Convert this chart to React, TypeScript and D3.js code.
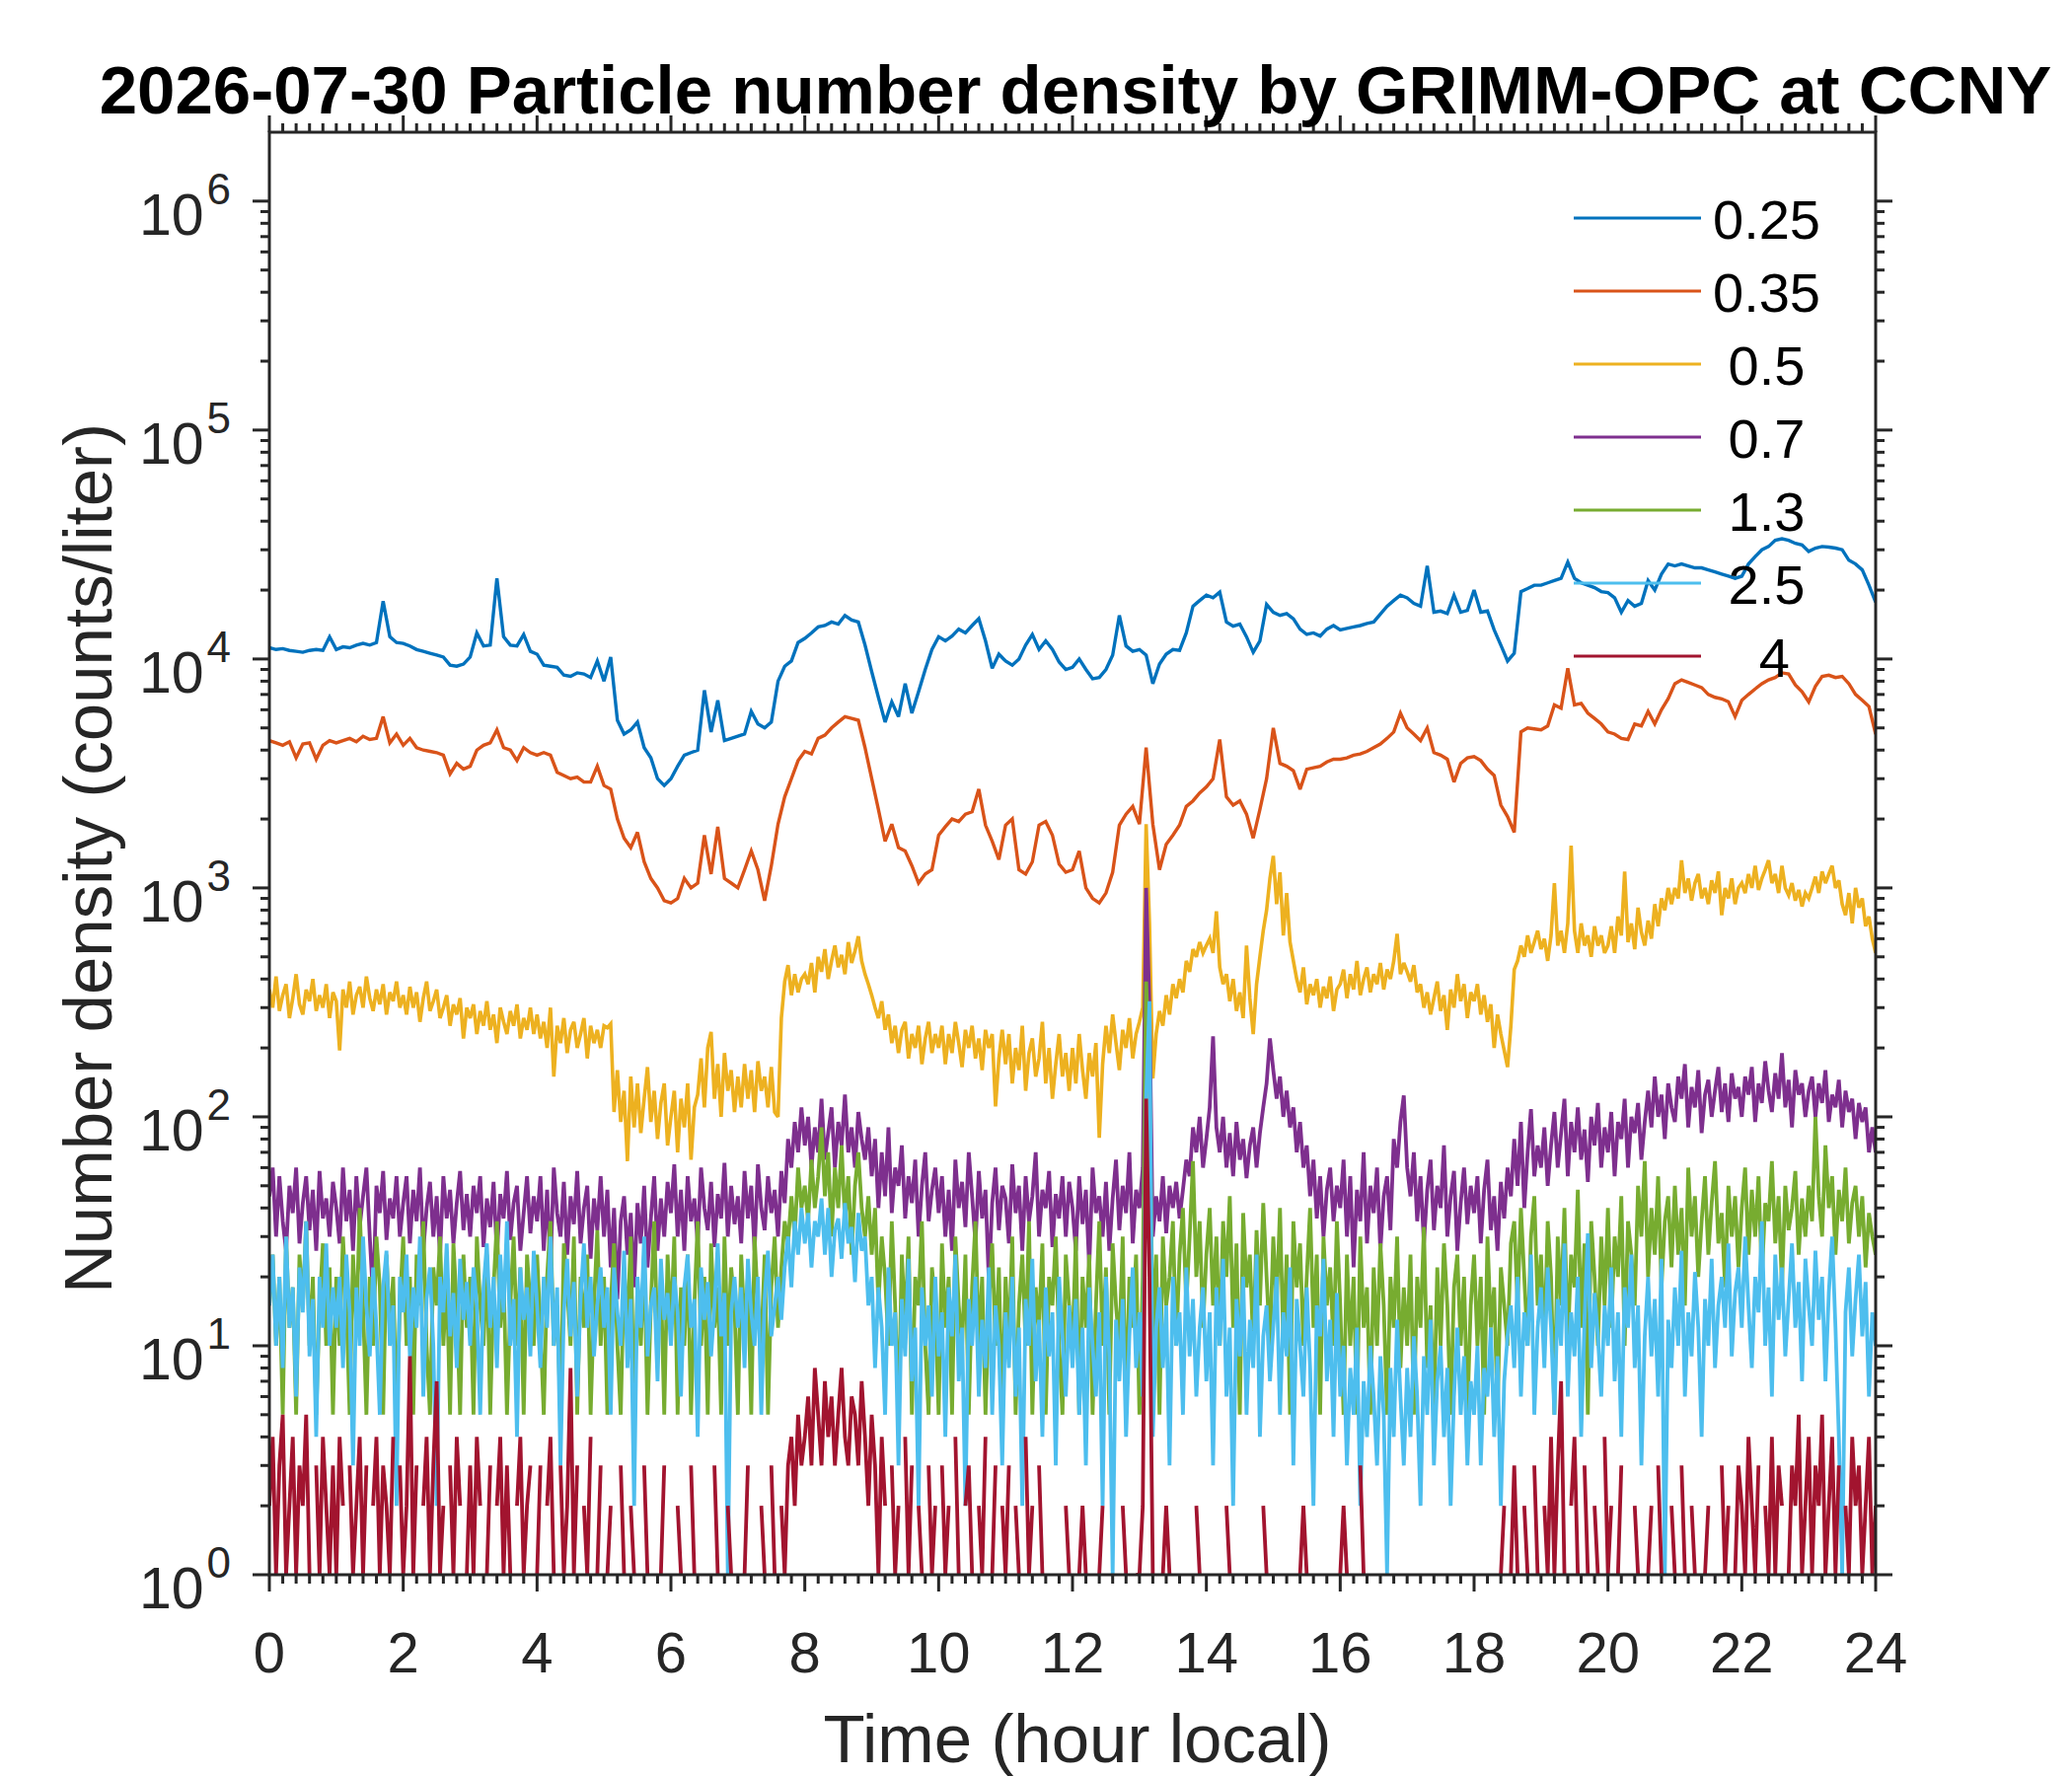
import React from 'react';
import * as d3 from 'd3';

const W = 2100;
const H = 1800;
const PLOT = { left: 273, right: 1901, top: 134, bottom: 1596 };

const COARSE_STEP = 0.1; // hours between samples for the two smallest bins
const FINE_STEP = 0.05; // hours between samples for the other bins

const sizeLabels = ['0.25', '0.35', ' 0.5', ' 0.7', ' 1.3', ' 2.5', '   4'];
const colors = ['#0072BD', '#D95319', '#EDB120', '#7E2F8E', '#77AC30', '#4DBEEE', '#A2142F'];
const xTickValues = [0, 2, 4, 6, 8, 10, 12, 14, 16, 18, 20, 22, 24];
const yDecades = [0, 1, 2, 3, 4, 5, 6];

const n025 = [
  11200, 11000, 11100, 10900, 10800, 10700, 10900, 11000, 10900, 12500,
  11000, 11300, 11200, 11500, 11700, 11500, 11800, 17900, 12500, 11800,
  11700, 11400, 11000, 10800, 10600, 10400, 10200, 9400, 9300, 9500,
  10200, 13000, 11400, 11500, 22500, 12500, 11500, 11400, 12800, 10800,
  10500, 9400, 9300, 9200, 8500, 8400, 8700, 8600, 8300, 9800,
  8000, 10200, 5400, 4700, 4900, 5300, 4100, 3700, 3000, 2800,
  3000, 3400, 3800, 3900, 4000, 7300, 4800, 6600, 4400, 4500,
  4600, 4700, 5900, 5200, 5000, 5300, 8000, 9300, 9800, 11800,
  12300, 13000, 13800, 14000, 14500, 14200, 15500, 14800, 14500, 11500,
  8800, 6800, 5300, 6500, 5600, 7800, 5800, 7200, 9000, 11000,
  12500, 12000, 12600, 13500, 13000, 14000, 15000, 12000, 9100, 10500,
  9800, 9400, 10000, 11500, 12800, 11000, 12000, 11000, 9700, 9000,
  9200, 10000, 9000, 8200, 8300, 9000, 10400, 15500, 11400, 10800,
  11000, 10400, 7800, 9500, 10500, 11000, 10900, 13000, 17000, 18000,
  19000, 18500, 19600, 14500, 13900, 14200, 12500, 10700, 12000, 17300,
  16000, 15500, 15800, 15000, 13500, 12800, 13000, 12600, 13500, 14000,
  13400, 13600, 13800, 14000, 14300, 14500, 15700, 17000, 18000, 19000,
  18500, 17500, 17000, 25500, 16000, 16200, 15800, 19000, 16000, 16300,
  20000, 16000, 16200, 13400, 11500, 9800, 10600, 19700, 20300, 21000,
  21000, 21500, 22000, 22500, 26500, 22500, 21500, 21000, 20500, 19700,
  19500, 18500, 16000, 18000, 17000, 17500, 22000, 20000, 23500, 26000,
  25500, 26000, 25500, 25000, 25000, 24500, 24000, 23500, 23000, 22500,
  23000, 26000, 28000, 30000, 31000, 33000, 33500, 33000, 32000, 31500,
  29500, 30500, 31000, 30800, 30500, 30000, 27000, 26000, 24500, 21000,
  17700,
];

const n035 = [
  4400, 4300, 4200, 4350, 3700, 4250, 4300, 3650, 4200, 4400,
  4300, 4400, 4500, 4350, 4600, 4450, 4500, 5600, 4300, 4700,
  4200, 4500, 4100, 4000, 3950, 3900, 3800, 3150, 3500, 3300,
  3400, 4000, 4200, 4300, 4900, 4100, 4000, 3600, 4100, 3900,
  3800, 3900, 3800, 3200, 3100, 3000, 3050, 2900, 2900, 3400,
  2800, 2700, 2000, 1650, 1500, 1750, 1300, 1100, 1000, 880,
  860, 900, 1100, 1000, 1050, 1700, 1150, 1850, 1100, 1050,
  1000, 1200, 1450, 1200, 880, 1250, 1900, 2500, 3000, 3600,
  3950, 3850, 4500, 4650, 5000, 5300, 5600, 5500, 5400, 4100,
  3000, 2200, 1600, 1900, 1500, 1450, 1250, 1050, 1150, 1200,
  1700, 1850, 2000, 1950, 2100, 2150, 2700, 1880, 1600, 1330,
  1880, 2000, 1200, 1150, 1300, 1880, 1950, 1700, 1270, 1170,
  1200, 1450, 1000, 900, 860, 950, 1170, 1880, 2100, 2270,
  1900, 4100, 1900, 1200, 1550, 1700, 1880, 2270, 2400, 2600,
  2760, 3000, 4450, 2500, 2300, 2400, 2100, 1650, 2200, 3000,
  5000, 3500, 3400, 3250, 2700, 3300, 3350, 3400, 3550, 3650,
  3650, 3700, 3800, 3850, 3950, 4100, 4250, 4500, 4800, 5800,
  5000, 4700, 4400, 5000, 3900, 3800, 3650, 2900, 3500, 3700,
  3750, 3600, 3300, 3100, 2300, 2050, 1750, 4800, 5000, 4950,
  4900, 5100, 6300, 6100, 9100, 6300, 6400, 5800, 5500, 5200,
  4800, 4700, 4500, 4450, 5200, 5100, 5900, 5200, 6000, 6700,
  7800, 8100, 7900, 7700, 7500, 7000, 6800, 6700, 6500, 5600,
  6600, 7000, 7400, 7800, 8100, 8300, 8700, 8600, 7700, 7200,
  6500, 7600, 8400, 8500, 8300, 8400, 7800, 7000, 6600, 6200,
  4700,
];

const n05 = [
  360, 300, 410, 290, 340, 380, 270, 330, 420, 310, 280, 360, 320, 400, 290, 340, 300, 380, 270, 350,
  320, 195, 360, 300, 390, 280, 340, 370, 300, 410, 330, 290, 360, 310, 380, 280, 350, 320, 390, 300,
  340, 280, 370, 300, 350, 260, 330, 390, 290, 320, 360, 270, 300, 340, 250, 310, 280, 330, 220, 300,
  270, 310, 230, 290, 250, 320, 240, 280, 210, 300, 260, 230, 290, 250, 310, 220, 270, 240, 300, 230,
  280, 220, 260, 200, 300, 150, 250, 210, 270, 190, 240, 260, 200, 230, 270, 180, 250, 210, 240, 200,
  250, 245, 255, 105, 160, 95, 130, 64, 150, 90, 140, 85, 120, 165, 95, 130, 80, 115, 140, 75,
  100, 130, 70, 120, 90, 140, 65, 110, 125, 180, 110, 200, 235, 120, 170, 100, 190, 130, 160, 105,
  150, 110, 170, 120, 160, 105, 175, 130, 150, 110, 165, 105, 100, 270, 390, 460, 340, 420, 350, 400,
  420, 380, 470, 350, 500, 430, 540, 400, 480, 560, 450, 510, 420, 580, 470, 530, 615, 480, 420, 380,
  340, 300, 270, 320, 240, 280, 210, 250, 190, 240, 260, 180, 230, 200, 250, 170, 220, 260, 190, 230,
  200, 250, 170, 230, 190, 260, 210, 165, 240, 200, 250, 180, 220, 160, 240, 200, 230, 111, 180, 240,
  170, 230, 140, 200, 160, 250, 130, 190, 220, 150, 180, 260, 140, 200, 120, 170, 230, 150, 190, 130,
  200, 140, 230, 160, 120, 190, 150, 210, 81, 170, 250, 190, 280, 210, 160, 240, 200, 270, 180, 230,
  260, 300, 1900, 700, 147, 230, 290, 250, 340, 280, 380, 330, 400, 350, 480, 430, 540, 500, 580, 520,
  560, 600, 520, 790, 450, 380, 420, 320, 400, 290, 350, 270, 560, 330, 230, 380, 500, 650, 800, 1100,
  1380, 850, 1170, 620, 950, 580, 480, 400, 350, 450, 310, 380, 340, 400, 300, 370, 330, 410, 290, 360,
  380, 440, 330, 420, 360, 480, 340, 400, 450, 350, 420, 380, 470, 360, 440, 400, 480, 630, 420, 470,
  430, 390, 460, 350, 380, 300, 350, 280, 330, 390, 290, 340, 240, 360, 300, 420, 320, 380, 270, 350,
  320, 380, 280, 340, 260, 310, 200, 280, 230, 195, 165, 250, 440, 480, 560, 500, 620, 520, 580, 650,
  540, 600, 480, 620, 1050, 560, 650, 520, 700, 1530, 650, 520, 700, 560, 620, 500, 680, 560, 620, 520,
  560, 680, 520, 750, 620, 1180, 580, 700, 540, 820, 640, 560, 720, 600, 850, 680, 900, 800, 1000, 850,
  1000, 900, 1320, 950, 1100, 880, 1050, 1150, 900, 1000, 850, 1080, 950, 1180, 760, 1000, 900, 1100, 850, 1000,
  1050, 950, 1150, 1000, 1250, 980, 1100, 1200, 1320, 1050, 1150, 950, 1250, 1000, 930, 1050, 880, 980, 830, 950,
  900, 1000, 1120, 950, 1180, 1050, 1150, 1250, 1000, 1080, 850, 760, 950, 700, 1000, 820, 900, 680, 750, 600,
  520,
];

const n07 = [
  45, 60, 30, 55, 35, 26, 50, 38, 60, 28, 42, 55, 32, 48, 26, 58, 36, 44, 30, 52,
  40, 28, 60, 35, 48, 26, 55, 33, 45, 60, 30, 16, 50, 38, 58, 29, 44, 36, 55, 30,
  42, 55, 28, 48, 35, 60, 26, 40, 52, 30, 45, 25, 55, 36, 48, 28, 42, 58, 32, 46,
  30, 50, 38, 55, 27, 44, 33, 52, 25, 46, 36, 58, 29, 42, 50, 26, 38, 55, 31, 45,
  35, 55, 26, 48, 22, 60, 38, 30, 52, 25, 45, 34, 58, 28, 40, 50, 24, 44, 32, 55,
  30, 48, 22, 40, 16, 35, 45, 25, 38, 18, 42, 28, 50, 22, 36, 55, 26, 44, 30, 52,
  38, 62, 30, 48, 26, 55, 35, 44, 28, 60, 40, 32, 52, 27, 46, 36, 63, 30, 50, 34,
  45, 28, 58, 36, 50, 26, 62, 40, 32, 55, 38, 48, 30, 58, 42, 80, 60, 95, 70, 110,
  75, 100, 60, 90, 70, 120, 65, 85, 110, 60, 95, 75, 125, 70, 90, 60, 105, 80, 65, 90,
  55, 80, 40, 70, 45, 90, 38, 60, 50, 75, 36, 55, 42, 65, 30, 50, 70, 35, 48, 60,
  38, 55, 30, 48, 26, 65, 40, 52, 33, 70, 45, 28, 58, 36, 48, 19, 42, 60, 32, 50,
  44, 28, 62, 38, 50, 26, 55, 35, 45, 70, 30, 48, 40, 58, 27, 46, 36, 55, 30, 52,
  40, 26, 55, 34, 48, 22, 60, 38, 45, 30, 52, 26, 44, 65, 32, 50, 38, 70, 28, 48,
  40, 60, 1000, 300, 30, 45, 35, 55, 31, 50, 40, 52, 36, 48, 65, 55, 90, 70, 100, 60,
  80, 110, 225, 90, 70, 100, 60, 85, 55, 95, 65, 80, 54, 75, 90, 60, 85, 110, 140, 220,
  160, 120, 150, 100, 130, 90, 110, 70, 95, 60, 75, 45, 65, 36, 55, 30, 48, 60, 35, 50,
  40, 65, 30, 55, 22, 48, 35, 70, 28, 50, 38, 60, 26, 45, 55, 32, 80, 60, 95, 124,
  60, 45, 70, 35, 55, 28, 48, 65, 32, 50, 40, 75, 30, 45, 58, 26, 42, 60, 34, 50,
  38, 55, 28, 48, 65, 32, 45, 26, 52, 36, 60, 45, 80, 50, 95, 40, 70, 108, 55, 75,
  60, 90, 50, 75, 105, 60, 85, 120, 55, 95, 70, 110, 65, 88, 52, 100, 75, 115, 60, 90,
  70, 105, 55, 95, 80, 120, 60, 100, 85, 115, 65, 95, 130, 90, 150, 100, 125, 80, 140, 110,
  95, 150, 120, 170, 90, 135, 110, 160, 85, 125, 145, 100, 130, 165, 105, 140, 95, 155, 120, 135,
  100, 150, 125, 165, 95, 140, 115, 175, 130, 105, 155, 120, 190, 110, 145, 90, 160, 125, 140, 100,
  130, 150, 100, 140, 115, 160, 95, 125, 110, 145, 90, 130, 105, 120, 80, 115, 95, 110, 70, 90,
  70,
];

const n13 = [
  15, 25, 10, 20, 5, 30, 12, 18, 5, 25, 15, 35, 10, 20, 5, 15, 28, 10, 22, 5,
  20, 10, 30, 15, 5, 25, 12, 40, 15, 5, 20, 10, 30, 18, 5, 25, 12, 20, 5, 15,
  30, 10, 20, 5, 25, 15, 35, 10, 5, 22, 15, 30, 10, 20, 5, 28, 15, 5, 25, 12,
  20, 5, 30, 15, 10, 25, 5, 18, 35, 12, 20, 5, 15, 30, 10, 22, 5, 25, 15, 10,
  25, 12, 5, 20, 35, 10, 15, 5, 28, 18, 10, 30, 5, 20, 12, 25, 5, 15, 32, 10,
  20, 5, 15, 28, 10, 5, 22, 12, 30, 5, 18, 10, 25, 5, 15, 35, 10, 20, 5, 25,
  12, 30, 5, 18, 10, 25, 5, 15, 35, 10, 20, 5, 28, 12, 18, 5, 30, 10, 22, 15,
  5, 25, 12, 20, 5, 30, 15, 10, 25, 5, 18, 30, 12, 22, 35, 28, 45, 30, 60, 40,
  50, 35, 65, 40, 55, 90, 45, 70, 30, 60, 40, 75, 35, 55, 25, 50, 70, 40, 30, 45,
  25, 40, 15, 30, 20, 10, 35, 15, 5, 25, 12, 30, 5, 20, 15, 35, 10, 5, 22, 15,
  5, 28, 12, 20, 5, 30, 15, 10, 25, 5, 18, 35, 10, 20, 5, 15, 28, 10, 22, 5,
  20, 10, 30, 5, 15, 25, 10, 35, 5, 18, 12, 28, 5, 20, 15, 30, 10, 5, 25, 15,
  10, 30, 5, 20, 12, 25, 5, 15, 35, 10, 22, 5, 28, 15, 10, 30, 5, 20, 12, 25,
  5, 20, 390, 150, 10, 25, 5, 30, 15, 20, 35, 10, 25, 40, 15, 30, 64, 20, 35, 12,
  25, 40, 15, 30, 10, 35, 20, 45, 12, 28, 5, 38, 18, 25, 10, 32, 15, 42, 20, 10,
  30, 15, 40, 10, 25, 5, 35, 18, 28, 10, 20, 40, 12, 25, 5, 30, 15, 22, 10, 35,
  15, 5, 25, 10, 20, 5, 30, 12, 18, 5, 22, 10, 28, 15, 5, 20, 12, 30, 8, 18,
  10, 25, 5, 20, 12, 33, 8, 15, 5, 22, 10, 28, 15, 5, 18, 25, 10, 20, 5, 15,
  25, 10, 20, 5, 30, 12, 18, 5, 22, 15, 10, 28, 35, 15, 40, 20, 10, 30, 45, 15,
  25, 10, 35, 20, 5, 30, 15, 40, 10, 25, 18, 48, 12, 28, 5, 35, 20, 10, 30, 15,
  40, 12, 30, 20, 45, 10, 35, 25, 15, 50, 30, 64, 20, 40, 25, 55, 18, 35, 45, 22,
  50, 25, 40, 15, 60, 30, 45, 20, 35, 55, 25, 42, 64, 28, 38, 18, 50, 30, 45, 22,
  40, 60, 25, 48, 30, 55, 20, 42, 35, 64, 28, 45, 18, 50, 32, 40, 58, 25, 44, 30,
  50, 35, 100, 45, 30, 75, 40, 55, 25, 48, 35, 60, 28, 42, 50, 30, 45, 22, 38, 30,
  25,
];

const n25 = [
  15, 25, 10, 20, 8, 30, 12, 18, 6, 22, 14, 35, 9, 16, 4, 20, 12, 28, 10, 18,
  12, 20, 8, 25, 14, 3, 18, 10, 30, 15, 9, 22, 12, 5, 18, 26, 10, 15, 2, 20,
  14, 25, 9, 18, 12, 30, 6, 16, 22, 10, 2, 20, 14, 28, 11, 17, 8, 24, 13, 19,
  10, 22, 15, 5, 18, 28, 12, 20, 8, 25, 14, 35, 10, 16, 4, 22, 13, 18, 9, 26,
  15, 8, 20, 12, 30, 10, 18, 3, 14, 24, 11, 19, 6, 16, 28, 12, 20, 9, 15, 22,
  12, 18, 5, 22, 14, 10, 26, 8, 16, 2, 20, 12, 30, 9, 15, 18, 7, 24, 13, 17,
  10, 20, 14, 6, 18, 25, 12, 16, 4, 22, 13, 19, 9, 15, 28, 11, 17, 1, 14, 20,
  12, 18, 8, 24, 14, 10, 20, 5, 16, 26, 11, 15, 20, 13, 22, 30, 18, 35, 25, 40,
  28, 38, 22, 35, 30, 44, 25, 40, 20, 32, 36, 24, 42, 28, 33, 19, 38, 26, 30, 15,
  20, 8, 18, 12, 5, 22, 10, 14, 3, 16, 9, 24, 7, 12, 2, 18, 10, 15, 6, 20,
  9, 14, 4, 18, 11, 25, 7, 12, 2, 16, 10, 20, 6, 13, 8, 22, 5, 15, 10, 3,
  14, 8, 20, 6, 12, 2, 16, 10, 24, 7, 13, 4, 18, 9, 14, 3, 20, 11, 6, 15,
  8, 16, 5, 12, 3, 18, 10, 6, 14, 2, 20, 9, 1, 13, 7, 16, 4, 11, 22, 8,
  14, 6, 120, 320, 4, 12, 18, 8, 15, 3, 20, 10, 14, 5, 22, 9, 16, 6, 12, 18,
  7, 14, 3, 18, 10, 24, 6, 12, 2, 16, 9, 20, 5, 13, 8, 25, 4, 11, 15, 7,
  12, 20, 5, 14, 9, 22, 3, 16, 10, 6, 18, 8, 2, 15, 11, 24, 7, 13, 4, 17,
  6, 10, 3, 8, 5, 12, 2, 7, 4, 10, 6, 3, 9, 5, 1, 8, 4, 13, 6, 3,
  8, 4, 11, 6, 2, 9, 5, 13, 3, 7, 10, 4, 8, 2, 6, 12, 5, 9, 3, 7,
  5, 10, 3, 8, 6, 12, 4, 9, 2, 7, 11, 15, 8, 20, 6, 14, 10, 25, 5, 12,
  18, 8, 22, 12, 5, 16, 10, 28, 6, 14, 9, 20, 4, 13, 31, 8, 17, 11, 6, 15,
  10, 22, 7, 14, 4, 18, 12, 25, 8, 15, 3, 11, 20, 9, 16, 6, 24, 1, 13, 8,
  18, 10, 26, 6, 14, 9, 21, 12, 4, 16, 10, 24, 8, 15, 20, 12, 28, 9, 17, 22,
  12, 30, 15, 8, 20, 14, 35, 10, 18, 6, 25, 13, 22, 9, 16, 28, 12, 19, 7, 24,
  15, 10, 26, 13, 20, 7, 17, 30, 12, 4, 1, 14, 22, 9, 16, 25, 11, 19, 6, 14,
  10,
];

const n4 = [
  2, 4, 1, 3, 5, 1, 2, 4, 1, 3, 2, 5, 1, 0, 3, 1, 4, 2, 1, 3,
  1, 4, 2, 0, 3, 1, 2, 4, 1, 3, 0, 2, 4, 1, 3, 2, 1, 4, 0, 3,
  1, 2, 9, 1, 3, 0, 2, 4, 1, 3, 7, 1, 2, 0, 3, 1, 4, 2, 0, 1,
  3, 1, 4, 2, 0, 1, 3, 0, 2, 4, 1, 3, 1, 0, 2, 4, 1, 2, 3, 0,
  1, 3, 0, 2, 4, 1, 0, 3, 1, 2, 8, 1, 3, 0, 2, 1, 4, 0, 1, 3,
  0, 1, 2, 0, 0, 3, 1, 0, 2, 1, 0, 0, 3, 1, 0, 2, 0, 1, 3, 0,
  1, 0, 2, 1, 0, 0, 3, 1, 0, 2, 0, 1, 0, 3, 1, 0, 0, 2, 1, 0,
  2, 0, 1, 3, 0, 1, 0, 2, 1, 0, 3, 1, 0, 2, 1, 3, 4, 2, 5, 3,
  4, 6, 3, 8, 5, 3, 7, 4, 6, 3, 5, 8, 4, 3, 6, 5, 3, 7, 4, 2,
  5, 3, 1, 4, 2, 0, 3, 1, 2, 0, 4, 1, 3, 0, 2, 1, 0, 3, 1, 2,
  0, 3, 1, 2, 0, 4, 1, 0, 2, 3, 1, 0, 2, 1, 4, 0, 1, 3, 0, 2,
  1, 3, 0, 2, 1, 0, 4, 1, 2, 0, 3, 1, 0, 2, 0, 1, 0, 0, 2, 1,
  0, 0, 1, 2, 1, 0, 0, 0, 1, 2, 0, 0, 1, 0, 0, 2, 1, 0, 0, 1,
  1, 2, 120, 20, 1, 0, 0, 1, 2, 1, 0, 0, 0, 1, 0, 0, 0, 2, 1, 0,
  0, 0, 1, 0, 0, 0, 2, 1, 0, 0, 0, 0, 1, 0, 0, 0, 0, 2, 1, 0,
  0, 0, 0, 1, 0, 0, 0, 0, 1, 2, 1, 0, 0, 0, 0, 0, 1, 0, 0, 0,
  1, 2, 1, 0, 0, 0, 3, 1, 0, 0, 0, 0, 0, 1, 0, 0, 0, 0, 0, 0,
  0, 0, 0, 1, 0, 0, 0, 0, 0, 0, 1, 0, 0, 0, 0, 0, 0, 1, 0, 0,
  0, 0, 0, 0, 0, 0, 0, 0, 1, 2, 0, 1, 3, 1, 0, 2, 1, 0, 3, 1,
  0, 2, 1, 4, 1, 3, 7, 1, 0, 2, 4, 1, 0, 3, 1, 0, 2, 1, 0, 4,
  1, 2, 0, 1, 3, 0, 1, 0, 2, 1, 0, 0, 1, 2, 0, 3, 1, 0, 0, 2,
  1, 0, 3, 1, 0, 2, 1, 0, 0, 1, 2, 0, 1, 0, 3, 1, 2, 0, 1, 3,
  2, 1, 4, 2, 1, 3, 0, 2, 1, 4, 1, 3, 2, 0, 1, 3, 2, 5, 1, 2,
  4, 1, 3, 2, 5, 1, 2, 4, 1, 3, 0, 2, 1, 4, 2, 3, 1, 2, 4, 1,
  2,
];

const seriesValues = [n025, n035, n05, n07, n13, n25, n4];
const seriesSteps = [COARSE_STEP, COARSE_STEP, FINE_STEP, FINE_STEP, FINE_STEP, FINE_STEP, FINE_STEP];
const seriesWidths = [3.4, 3.4, 3.6, 3.8, 3.8, 3.8, 3.8];

const FONT = '"Liberation Sans", Arial, Helvetica, sans-serif';
const AXIS_COLOR = '#262626';

export default function App() {
  const x = d3.scaleLinear().domain([0, 24]).range([PLOT.left, PLOT.right]);
  const y = d3.scaleLog().domain([1, 2e6]).range([PLOT.bottom, PLOT.top]);

  const makePath = (values: number[], step: number) =>
    d3
      .line<number>()
      .defined((v) => v > 0)
      .x((_, i) => x(i * step))
      .y((v) => y(v))(values) || '';

  const xMinor = d3.range(0, 121).filter((i) => i % 10 !== 0).map((i) => i * 0.2);
  const yMinor: number[] = [];
  for (let e = 0; e <= 5; e++) for (let m = 2; m <= 9; m++) yMinor.push(m * Math.pow(10, e));

  const MAJ = 17;
  const MIN = 9;
  const tickStroke = 3;

  return (
    <svg
      width={W}
      height={H}
      viewBox={`0 0 ${W} ${H}`}
      style={{ position: 'absolute', left: 0, top: 0, background: '#ffffff', display: 'block' }}
      fontFamily={FONT}
    >
      <rect x={0} y={0} width={W} height={H} fill="#ffffff" />
      <defs>
        <clipPath id="plotClip">
          <rect x={PLOT.left} y={PLOT.top} width={PLOT.right - PLOT.left} height={PLOT.bottom - PLOT.top} />
        </clipPath>
      </defs>

      <g clipPath="url(#plotClip)">
        {seriesValues.map((vals, k) => (
          <path
            key={k}
            d={makePath(vals, seriesSteps[k])}
            fill="none"
            stroke={colors[k]}
            strokeWidth={seriesWidths[k]}
            strokeLinejoin="miter"
            strokeMiterlimit={3}
          />
        ))}
      </g>

      {/* axes box */}
      <rect
        x={PLOT.left}
        y={PLOT.top}
        width={PLOT.right - PLOT.left}
        height={PLOT.bottom - PLOT.top}
        fill="none"
        stroke={AXIS_COLOR}
        strokeWidth={3}
      />

      {/* x ticks bottom & top, y ticks left & right */}
      <g stroke={AXIS_COLOR} strokeWidth={tickStroke}>
        {xTickValues.map((t) => (
          <g key={'xM' + t}>
            <line x1={x(t)} x2={x(t)} y1={PLOT.bottom} y2={PLOT.bottom + MAJ} />
            <line x1={x(t)} x2={x(t)} y1={PLOT.top} y2={PLOT.top - MAJ} />
          </g>
        ))}
        {xMinor.map((t) => (
          <g key={'xm' + t}>
            <line x1={x(t)} x2={x(t)} y1={PLOT.bottom} y2={PLOT.bottom + MIN} />
            <line x1={x(t)} x2={x(t)} y1={PLOT.top} y2={PLOT.top - MIN} />
          </g>
        ))}
        {yDecades.map((e) => {
          const yy = y(Math.pow(10, e));
          return (
            <g key={'yM' + e}>
              <line x1={PLOT.left} x2={PLOT.left - MAJ} y1={yy} y2={yy} />
              <line x1={PLOT.right} x2={PLOT.right + MAJ} y1={yy} y2={yy} />
            </g>
          );
        })}
        {yMinor.map((v) => {
          const yy = y(v);
          return (
            <g key={'ym' + v}>
              <line x1={PLOT.left} x2={PLOT.left - MIN} y1={yy} y2={yy} />
              <line x1={PLOT.right} x2={PLOT.right + MIN} y1={yy} y2={yy} />
            </g>
          );
        })}
      </g>

      {/* x tick labels */}
      <g fill={AXIS_COLOR} fontSize={58} textAnchor="middle">
        {xTickValues.map((t) => (
          <text key={'xl' + t} x={x(t)} y={1695}>
            {t}
          </text>
        ))}
      </g>

      {/* y tick labels */}
      <g fill={AXIS_COLOR} fontSize={59} textAnchor="end">
        {yDecades.map((e) => (
          <text key={'yl' + e} x={234} y={y(Math.pow(10, e)) + 34}>
            10
            <tspan dx={3} dy={-31} fontSize={44}>
              {e}
            </tspan>
          </text>
        ))}
      </g>

      {/* title */}
      <text x={1090} y={115} textAnchor="middle" fontSize={69} fontWeight="bold" fill="#000000">
        2026-07-30 Particle number density by GRIMM-OPC at CCNY
      </text>

      {/* axis labels */}
      <text x={1092} y={1786} textAnchor="middle" fontSize={69} fill={AXIS_COLOR}>
        Time (hour local)
      </text>
      <text
        transform={`translate(113, 870) rotate(-90)`}
        textAnchor="middle"
        fontSize={69}
        fill={AXIS_COLOR}
      >
        Number density (counts/liter)
      </text>

      {/* legend */}
      <g>
        {sizeLabels.map((lab, k) => {
          const ly = 221 + 74 * k;
          return (
            <g key={'lg' + k}>
              <line x1={1595} x2={1724} y1={ly} y2={ly} stroke={colors[k]} strokeWidth={3} />
              <text
                x={1736}
                y={ly + 21}
                fontSize={56}
                fill="#000000"
                xmlSpace="preserve"
                style={{ whiteSpace: 'pre' }}
              >
                {lab}
              </text>
            </g>
          );
        })}
      </g>
    </svg>
  );
}
